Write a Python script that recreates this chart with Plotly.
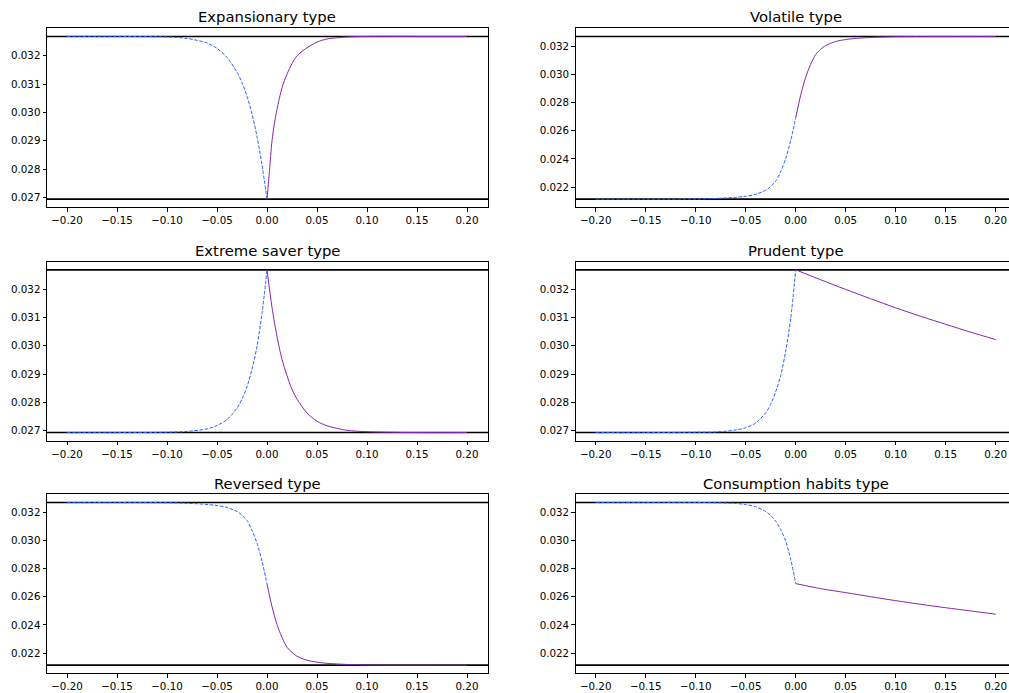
import plotly.graph_objects as go

# ---------------- data ----------------
titles = ["Expansionary type", "Volatile type", "Extreme saver type",
          "Prudent type", "Reversed type", "Consumption habits type"]

upper_bound = [0.03268, 0.03268, 0.03268, 0.03268, 0.03268, 0.03268]
lower_bound = [0.02694, 0.02115, 0.02694, 0.02694, 0.02115, 0.02115]

x_neg = [-0.2, -0.15, -0.1, -0.08, -0.06, -0.05, -0.04, -0.03, -0.025,
         -0.02, -0.015, -0.01, -0.005, 0.0]
x_pos = [0.0, 0.005, 0.01, 0.015, 0.02, 0.025, 0.03, 0.04, 0.05, 0.06,
         0.08, 0.1, 0.15, 0.2]
x_pos_exp = [0.0, 0.0025, 0.005, 0.0075, 0.01, 0.015, 0.02, 0.025, 0.03,
             0.04, 0.05, 0.06, 0.08, 0.1, 0.15, 0.2]
x_pos_lin = [0.0, 0.025, 0.05, 0.075, 0.1, 0.125, 0.15, 0.175, 0.2]

# Expansionary
exp_neg = [0.03268, 0.03268, 0.03266, 0.03261, 0.03245, 0.03226, 0.03194,
           0.03142, 0.03105, 0.03057, 0.02995, 0.02915, 0.02815, 0.02694]
exp_pos = [0.02694, 0.02795, 0.02900, 0.02962, 0.03011, 0.03087, 0.03135,
           0.03172, 0.03200, 0.03228, 0.03248, 0.03259, 0.03266, 0.03268,
           0.03268, 0.03268]
# Volatile
vol_neg = [0.02115, 0.02115, 0.02116, 0.02120, 0.02128, 0.02136, 0.02150,
           0.02178, 0.02205, 0.02242, 0.02311, 0.02403, 0.02530, 0.02691]
vol_pos = [0.02691, 0.02852, 0.02979, 0.03071, 0.03140, 0.03177, 0.03204,
           0.03232, 0.03246, 0.03254, 0.03262, 0.03266, 0.03267, 0.03267]
# Extreme saver
sav_neg = [0.02694, 0.02694, 0.02695, 0.02698, 0.02707, 0.02719, 0.02740,
           0.02780, 0.02812, 0.02855, 0.02918, 0.02998, 0.03113, 0.03268]
sav_pos = [0.03268, 0.03136, 0.03033, 0.02952, 0.02895, 0.02846, 0.02812,
           0.02763, 0.02734, 0.02718, 0.02702, 0.02697, 0.02694, 0.02694]
# Prudent
pru_neg = [0.02694, 0.02694, 0.02695, 0.02696, 0.02703, 0.02711, 0.02728,
           0.02764, 0.02794, 0.02838, 0.02895, 0.02981, 0.03096, 0.03268]
pru_pos = [0.03268, 0.03233, 0.03199, 0.03166, 0.03134, 0.03104, 0.03076,
           0.03048, 0.03022]
# Reversed
rev_neg = [0.03267, 0.03267, 0.03266, 0.03262, 0.03254, 0.03246, 0.03232,
           0.03204, 0.03177, 0.03140, 0.03071, 0.02979, 0.02852, 0.02691]
rev_pos = [0.02691, 0.02530, 0.02403, 0.02311, 0.02242, 0.02205, 0.02178,
           0.02150, 0.02136, 0.02128, 0.02120, 0.02116, 0.02115, 0.02115]
# Consumption habits
con_neg = [0.03268, 0.03268, 0.03268, 0.03266, 0.03261, 0.03253, 0.03237,
           0.03204, 0.03176, 0.03135, 0.03076, 0.02993, 0.02866, 0.02694]
con_pos = [0.02693, 0.02657, 0.02629, 0.02600, 0.02572, 0.02546, 0.02522,
           0.02499, 0.02476]

neg_x = [x_neg, x_neg, x_neg, x_neg, x_neg, x_neg]
neg_y = [exp_neg, vol_neg, sav_neg, pru_neg, rev_neg, con_neg]
pos_x = [x_pos_exp, x_pos, x_pos, x_pos_lin, x_pos, x_pos_lin]
pos_y = [exp_pos, vol_pos, sav_pos, pru_pos, rev_pos, con_pos]

x_tickvals = [-0.2, -0.15, -0.1, -0.05, 0.0, 0.05, 0.1, 0.15, 0.2]
x_ticktext = ["\u22120.20", "\u22120.15", "\u22120.10", "\u22120.05", "0.00",
              "0.05", "0.10", "0.15", "0.20"]
y_ticks_fine = [0.027, 0.028, 0.029, 0.030, 0.031, 0.032]
y_ticks_wide = [0.022, 0.024, 0.026, 0.028, 0.030, 0.032]
panel_yticks = [y_ticks_fine, y_ticks_wide, y_ticks_fine, y_ticks_fine,
                y_ticks_wide, y_ticks_wide]

# ---------------- layout geometry ----------------
W, H = 1009, 693
col_px = [(47.0, 488.0), (575.7, 1009.0)]
row_px = [(28.3, 207.3), (261.7, 440.7), (494.3, 673.3)]
title_px = [17.0, 250.0, 483.3]
PX_PER_UNIT = 1000.0

FONT = "DejaVu Sans"
TICK_SIZE = 10.3
TITLE_SIZE = 14.8
BLUE = "#2563ff"
PURPLE = "#8526ad"

fig = go.Figure()
layout = dict(
    width=W, height=H, margin=dict(l=0, r=0, t=0, b=0),
    paper_bgcolor="white", plot_bgcolor="white", showlegend=False,
    font=dict(family=FONT, size=TICK_SIZE, color="black"),
    shapes=[], annotations=[],
)

for i in range(6):
    r, c = divmod(i, 2)
    n = i + 1
    xa = "x" if n == 1 else f"x{n}"
    ya = "y" if n == 1 else f"y{n}"
    xkey = "xaxis" if n == 1 else f"xaxis{n}"
    ykey = "yaxis" if n == 1 else f"yaxis{n}"
    x0p, x1p = col_px[c]
    y0p, y1p = row_px[r]
    xmin = -0.22
    xmax = xmin + (x1p - x0p) / PX_PER_UNIT
    U, L = upper_bound[i], lower_bound[i]
    pad = 0.05 * (U - L)

    layout[xkey] = dict(
        domain=[x0p / W, x1p / W], anchor=ya, range=[xmin, xmax],
        showgrid=False, zeroline=False, showline=True, linecolor="black",
        linewidth=1, mirror=True, ticks="outside", ticklen=3.5, tickwidth=0.8,
        tickcolor="black", tickvals=x_tickvals, ticktext=x_ticktext,
        tickfont=dict(family=FONT, size=TICK_SIZE, color="black"),
    )
    layout[ykey] = dict(
        domain=[1 - y1p / H, 1 - y0p / H], anchor=xa,
        range=[L - pad, U + pad],
        showgrid=False, zeroline=False, showline=True, linecolor="black",
        linewidth=1, mirror=(c == 0), ticks="outside", ticklen=3.5,
        tickwidth=0.8, tickcolor="black",
        tickvals=panel_yticks[i],
        ticktext=[f"{v:.3f}" for v in panel_yticks[i]],
        tickfont=dict(family=FONT, size=TICK_SIZE, color="black"),
    )
    for yv in (U, L):
        layout["shapes"].append(dict(
            type="line", xref=f"{xa} domain", yref=ya, x0=0, x1=1,
            y0=yv, y1=yv, line=dict(color="black", width=1.6), layer="below",
        ))
    # title centred over the x-range [-0.22, 0.22]
    layout["annotations"].append(dict(
        text=titles[i], xref="paper", yref="paper",
        x=(x0p + 0.22 * PX_PER_UNIT) / W,
        y=1 - title_px[r] / H, xanchor="center", yanchor="middle",
        showarrow=False, font=dict(family=FONT, size=TITLE_SIZE, color="black"),
    ))

    fig.add_trace(go.Scatter(
        x=neg_x[i], y=neg_y[i], mode="lines", xaxis=xa, yaxis=ya,
        line=dict(color=BLUE, width=1, dash="3.5px,1.6px", shape="spline",
                  smoothing=0.8),
        hoverinfo="skip",
    ))
    fig.add_trace(go.Scatter(
        x=pos_x[i], y=pos_y[i], mode="lines", xaxis=xa, yaxis=ya,
        line=dict(color=PURPLE, width=1, shape="spline", smoothing=0.8),
        hoverinfo="skip",
    ))

fig.update_layout(**layout)
fig.write_html("out.html")
